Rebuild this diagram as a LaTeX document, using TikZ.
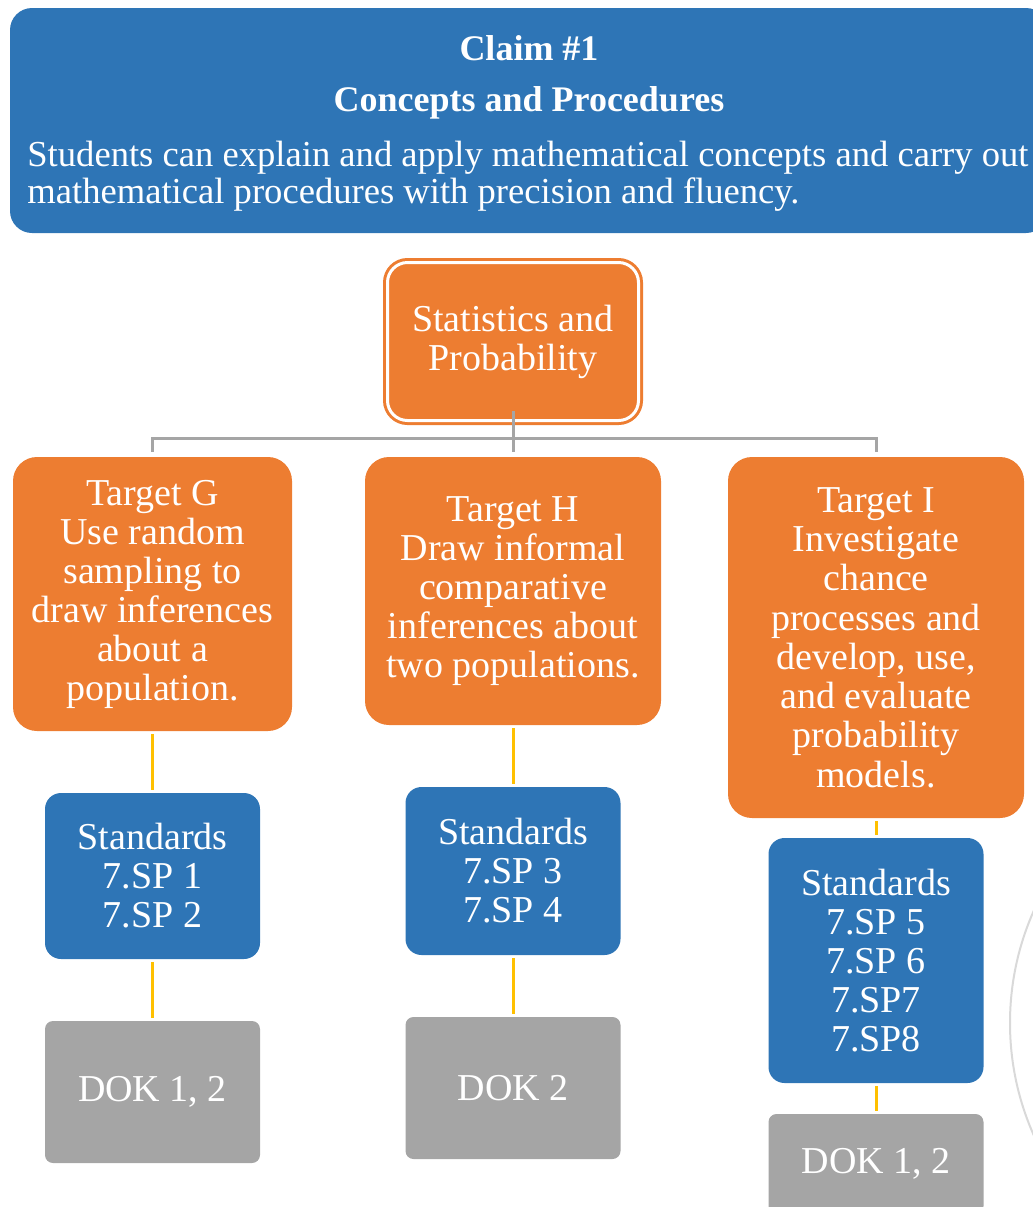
\documentclass[tikz,border=0pt]{standalone}
\usepackage{fontspec}
\setmainfont{Liberation Serif}
\definecolor{claimblue}{HTML}{2E75B6}
\definecolor{targetorange}{HTML}{ED7D31}
\definecolor{dokgray}{HTML}{A5A5A5}
\definecolor{linkyellow}{HTML}{FFC000}
\tikzset{
  boxtext/.style={text=white, align=center, font=\fontsize{19}{19.5}\selectfont, inner sep=0pt},
  targetbox/.style={boxtext, fill=targetorange, rounded corners=12pt},
  stdbox/.style={boxtext, fill=claimblue, rounded corners=8pt, minimum width=107.5pt},
  dokbox/.style={boxtext, fill=dokgray, rounded corners=4pt, minimum width=107.5pt, minimum height=71pt},
  tree/.style={draw=dokgray, line width=1.5pt},
  link/.style={draw=linkyellow, line width=1.5pt, shorten <=1.5pt, shorten >=1.5pt},
  ring/.style={draw=black!15, line width=1pt},
}
\begin{document}
\begin{tikzpicture}[x=0.5pt,y=-0.5pt]
\useasboundingbox (0,0) rectangle (1033,1207);
\clip (0,0) rectangle (1033,1207);

% claim banner
\node[fill=claimblue, rounded corners=11pt, minimum width=519pt, minimum height=112.5pt, inner sep=0pt] (claim) at (529,120.5) {};
\node[anchor=base, align=center, text=white, inner sep=0pt, font=\fontsize{18}{25.35}\selectfont\bfseries] (title) at (529,111) {Claim \#1\\Concepts and Procedures};
\node[anchor=base west, align=left, text=white, inner sep=0pt, font=\fontsize{18.3}{18.5}\selectfont] (claimtext) at (27,203) {Students can explain and apply mathematical concepts and carry out\\mathematical procedures with precision and fluency.};

% domain
\node[targetbox, draw=targetorange, double=white, double distance=1.5pt, line width=1.5pt, rounded corners=10pt, minimum width=125.5pt, minimum height=79pt] (root) at (513,341.5) {Statistics and\\Probability};

% targets
\node[targetbox, minimum width=139.5pt, minimum height=137pt] (tg) at (152.5,594) {Target G\\Use random\\sampling to\\draw inferences\\about a\\population.};
\node[targetbox, minimum width=148pt, minimum height=134pt] (th) at (513,591) {Target H\\Draw informal\\comparative\\inferences about\\two populations.};
\node[targetbox, minimum width=148pt, minimum height=180.5pt, font=\fontsize{19}{19.65}\selectfont] (ti) at (876,637.5) {Target I\\Investigate\\chance\\processes and\\develop, use,\\and evaluate\\probability\\models.};

% standards
\node[stdbox, minimum height=83pt] (sg) at (152.5,876) {Standards\\7.SP 1\\7.SP 2};
\node[stdbox, minimum height=84pt] (sh) at (513,871) {Standards\\7.SP 3\\7.SP 4};
\node[stdbox, minimum height=122.5pt] (si) at (876,960.5) {Standards\\7.SP 5\\7.SP 6\\7.SP7\\7.SP8};

% dok
\node[dokbox] (dg) at (152.5,1092) {DOK 1, 2};
\node[dokbox] (dh) at (513,1088) {DOK 2};
\node[dokbox, minimum height=50pt] (di) at (876,1164) {DOK 1, 2};

\coordinate (bus) at (513,438);
\draw[tree, shorten >=2.5pt] ([yshift=5.5pt]root.south) -- (th.north);
\draw[tree, shorten <=2.5pt, shorten >=2.5pt] (tg.north) |- (bus) -| (ti.north);

\draw[link] (tg) -- (sg);
\draw[link] (sg) -- (dg);
\draw[link] (th) -- (sh);
\draw[link] (sh) -- (dh);
\draw[link] (ti) -- (si);
\draw[link] (si) -- (di);

\coordinate (ringc) at (1286,1023);
\draw[ring] (ringc) circle[radius=138pt];

\end{tikzpicture}
\end{document}
